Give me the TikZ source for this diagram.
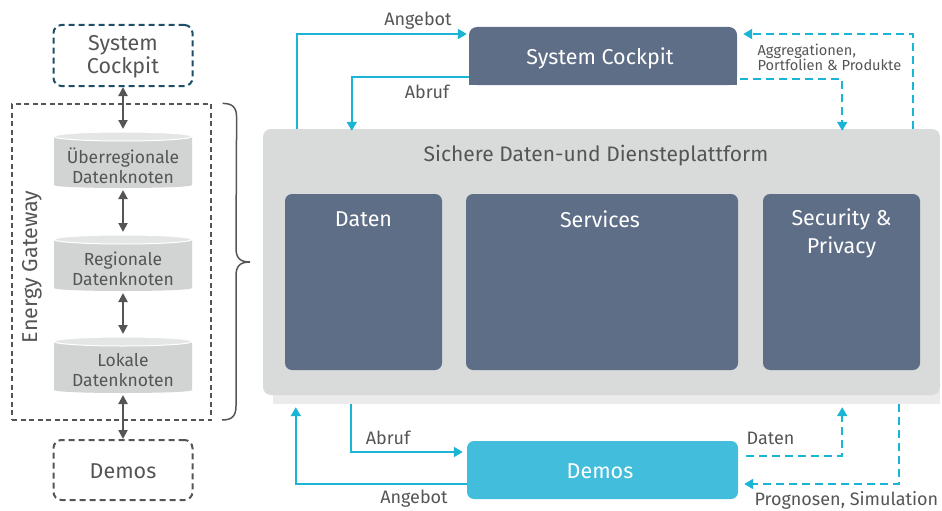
\documentclass[tikz,border=0pt]{standalone}
\usepackage{fontspec}
\setmainfont{Fira Sans}
\usetikzlibrary{arrows.meta}
\definecolor{slate}{HTML}{5E6E87}
\definecolor{cyline}{HTML}{1AB4D4}
\definecolor{demofill}{HTML}{42BEDC}
\definecolor{panel}{HTML}{D9DBDB}
\definecolor{panelshadow}{HTML}{EBEBEB}
\definecolor{txt}{HTML}{555555}
\definecolor{teal}{HTML}{1E4D66}
\definecolor{cylbody}{HTML}{D2D3D3}
\definecolor{cyltop}{HTML}{E4E5E5}
\tikzset{
  slatebox/.style={fill=slate, rounded corners=7pt, inner sep=0pt},
  boxtitle/.style={text=white, font=\fontsize{21.5}{28}\selectfont, align=center},
  lbl/.style={text=txt, font=\fontsize{18}{21}\selectfont},
  smalllbl/.style={text=txt, font=\fontsize{14.6}{15.5}\selectfont, align=left},
  cyarrow/.style={draw=cyline, line width=2pt, -{Triangle[width=10pt,length=9pt]}},
  cydash/.style={cyarrow, dash pattern=on 8pt off 5pt},
  grayarrow/.style={draw=txt, line width=2pt, {Triangle[width=9pt,length=9pt]}-{Triangle[width=9pt,length=9pt]}},
  dashbox/.style={draw=txt, line width=2pt, dash pattern=on 6pt off 4pt, rounded corners=8pt, inner sep=0pt, minimum width=139pt},
  sidetext/.style={text=txt, font=\fontsize{21.5}{23}\selectfont, align=center},
  cyltext/.style={text=txt, font=\fontsize{17.5}{20}\selectfont, align=center},
}
\begin{document}
\begin{tikzpicture}[x=1pt,y=-1pt]
\useasboundingbox (0,0) rectangle (942,511);

% ---- left column: energy gateway ----
\node[dashbox, draw=teal, minimum height=61pt] (sck) at (123,55.5) {};
\node[sidetext] (scktext) at (123,56.5) {System\\Cockpit};
\node[dashbox, minimum height=60pt] (dem) at (123,470) {};
\node[sidetext] (demtext) at (123,471) {Demos};
\node[draw=txt, line width=1.2pt, dash pattern=on 5pt off 3.5pt, minimum width=199pt, minimum height=316pt, inner sep=0pt] (gw) at (111.5,262) {};
\node[rotate=90, sidetext] (gwlabel) at (32,267) {Energy Gateway};

% data store cylinders
\foreach \name/\top/\txt in {c1/132/{Überregionale\\Datenknoten}, c2/235/{Regionale\\Datenknoten}, c3/337/{Lokale\\Datenknoten}} {
  \fill[cylbody] (54,\top+4.5) -- (54,\top+53) .. controls (54,\top+57) and (192,\top+57) .. (192,\top+53) -- (192,\top+4.5) -- cycle;
  \fill[cyltop, draw=white, line width=1pt] (123,\top+4.5) ellipse [x radius=69pt, y radius=4.5pt];
  \coordinate (\name top) at (123,\top-3);
  \coordinate (\name bot) at (123,\top+58);
  \node[cyltext] (\name) at (123,\top+33.5) {\txt};
}
\draw[grayarrow] (sck.south) -- (c1top);
\draw[grayarrow] (c1bot) -- (c2top);
\draw[grayarrow] (c2bot) -- (c3top);
\draw[grayarrow] (c3bot) -- (dem.north);

% curly brace
\draw[txt, line width=1.5pt] (gw.north east) ++(11,0) coordinate (br0)
  .. controls ++(10,0) and ++(0,-10) .. ++(14,14)
  -- (236,248) .. controls ++(0,10) and ++(-10,0) .. (250,262) coordinate (brtip)
  .. controls ++(-10,0) and ++(0,-10) .. (236,276)
  -- (236,406) .. controls ++(0,10) and ++(10,0) .. (222,420);

% ---- platform ----
\node[fill=panelshadow, minimum width=667pt, minimum height=14pt, inner sep=0pt] (shad) at (606.5,397) {};
\node[fill=panel, rounded corners=8pt, minimum width=677pt, minimum height=266pt, inner sep=0pt] (plat) at (601.5,262) {};
\node[text=txt, font=\fontsize{21}{25}\selectfont] (plattitle) at (596,156) {Sichere Daten-und Diensteplattform};

\node[slatebox, minimum width=157pt, minimum height=176pt] (daten) at (363.5,282) {};
\node[slatebox, minimum width=272pt, minimum height=176pt] (serv) at (602,282) {};
\node[slatebox, minimum width=157pt, minimum height=176pt] (sec) at (841.5,282) {};
\node[boxtitle] (datent) at (363.5,219) {Daten};
\node[boxtitle] (servt) at (600,219) {Services};
\node[boxtitle] (sect) at (841.5,233) {Security \&\\Privacy};

% ---- system cockpit and demos ----
\node[fill=slate, rounded corners=8pt, minimum width=268pt, minimum height=58pt, inner sep=0pt] (sc) at (603,56) {};
\fill[slate] (sc.south west) rectangle ([yshift=10pt]sc.south east);
\node[boxtitle] (sct) at (600,58) {System Cockpit};

\node[fill=demofill, rounded corners=7pt, minimum width=271pt, minimum height=58pt, inner sep=0pt] (demos) at (602.5,470) {};
\node[boxtitle] (demost) at (600,471) {Demos};

% ---- flows at the top ----
\draw[cyarrow] ([xshift=34pt]plat.north west) |- ([xshift=-2pt,yshift=22pt]sc.west);
\node[lbl] (angtop) at (418,21) {Angebot};
\draw[cyarrow] ([yshift=-21pt]sc.west) -| ([xshift=89pt,yshift=-2pt]plat.north west);
\node[lbl] (abrtop) at (427,92) {Abruf};
\draw[cydash] ([xshift=3pt,yshift=-23pt]sc.east) -| ([xshift=-98pt,yshift=-2pt]plat.north east);
\draw[cydash] ([xshift=-27pt]plat.north east) |- ([xshift=6pt,yshift=22pt]sc.east);
\node[smalllbl, anchor=west] (aggr) at (754,57.5) {Aggregationen,\\Portfolien \& Produkte};

% ---- flows at the bottom ----
\draw[cyarrow] ([xshift=78pt]shad.south west) |- ([xshift=-4pt,yshift=18pt]demos.west);
\node[lbl] (abrbot) at (388,438) {Abruf};
\draw[cyarrow] ([yshift=-14pt]demos.west) -| ([xshift=23pt,yshift=-3pt]shad.south west);
\node[lbl] (angbot) at (414,499) {Angebot};
\draw[cydash] ([xshift=8pt,yshift=14pt]demos.east) -| ([xshift=-98pt,yshift=-3pt]shad.south east);
\node[lbl] (datbot) at (770.5,438) {Daten};
\draw[cydash] ([xshift=-41pt]shad.south east) |- ([xshift=6pt,yshift=-14pt]demos.east);
\node[lbl, anchor=west] (prog) at (751,500) {Prognosen, Simulation};
\end{tikzpicture}
\end{document}
